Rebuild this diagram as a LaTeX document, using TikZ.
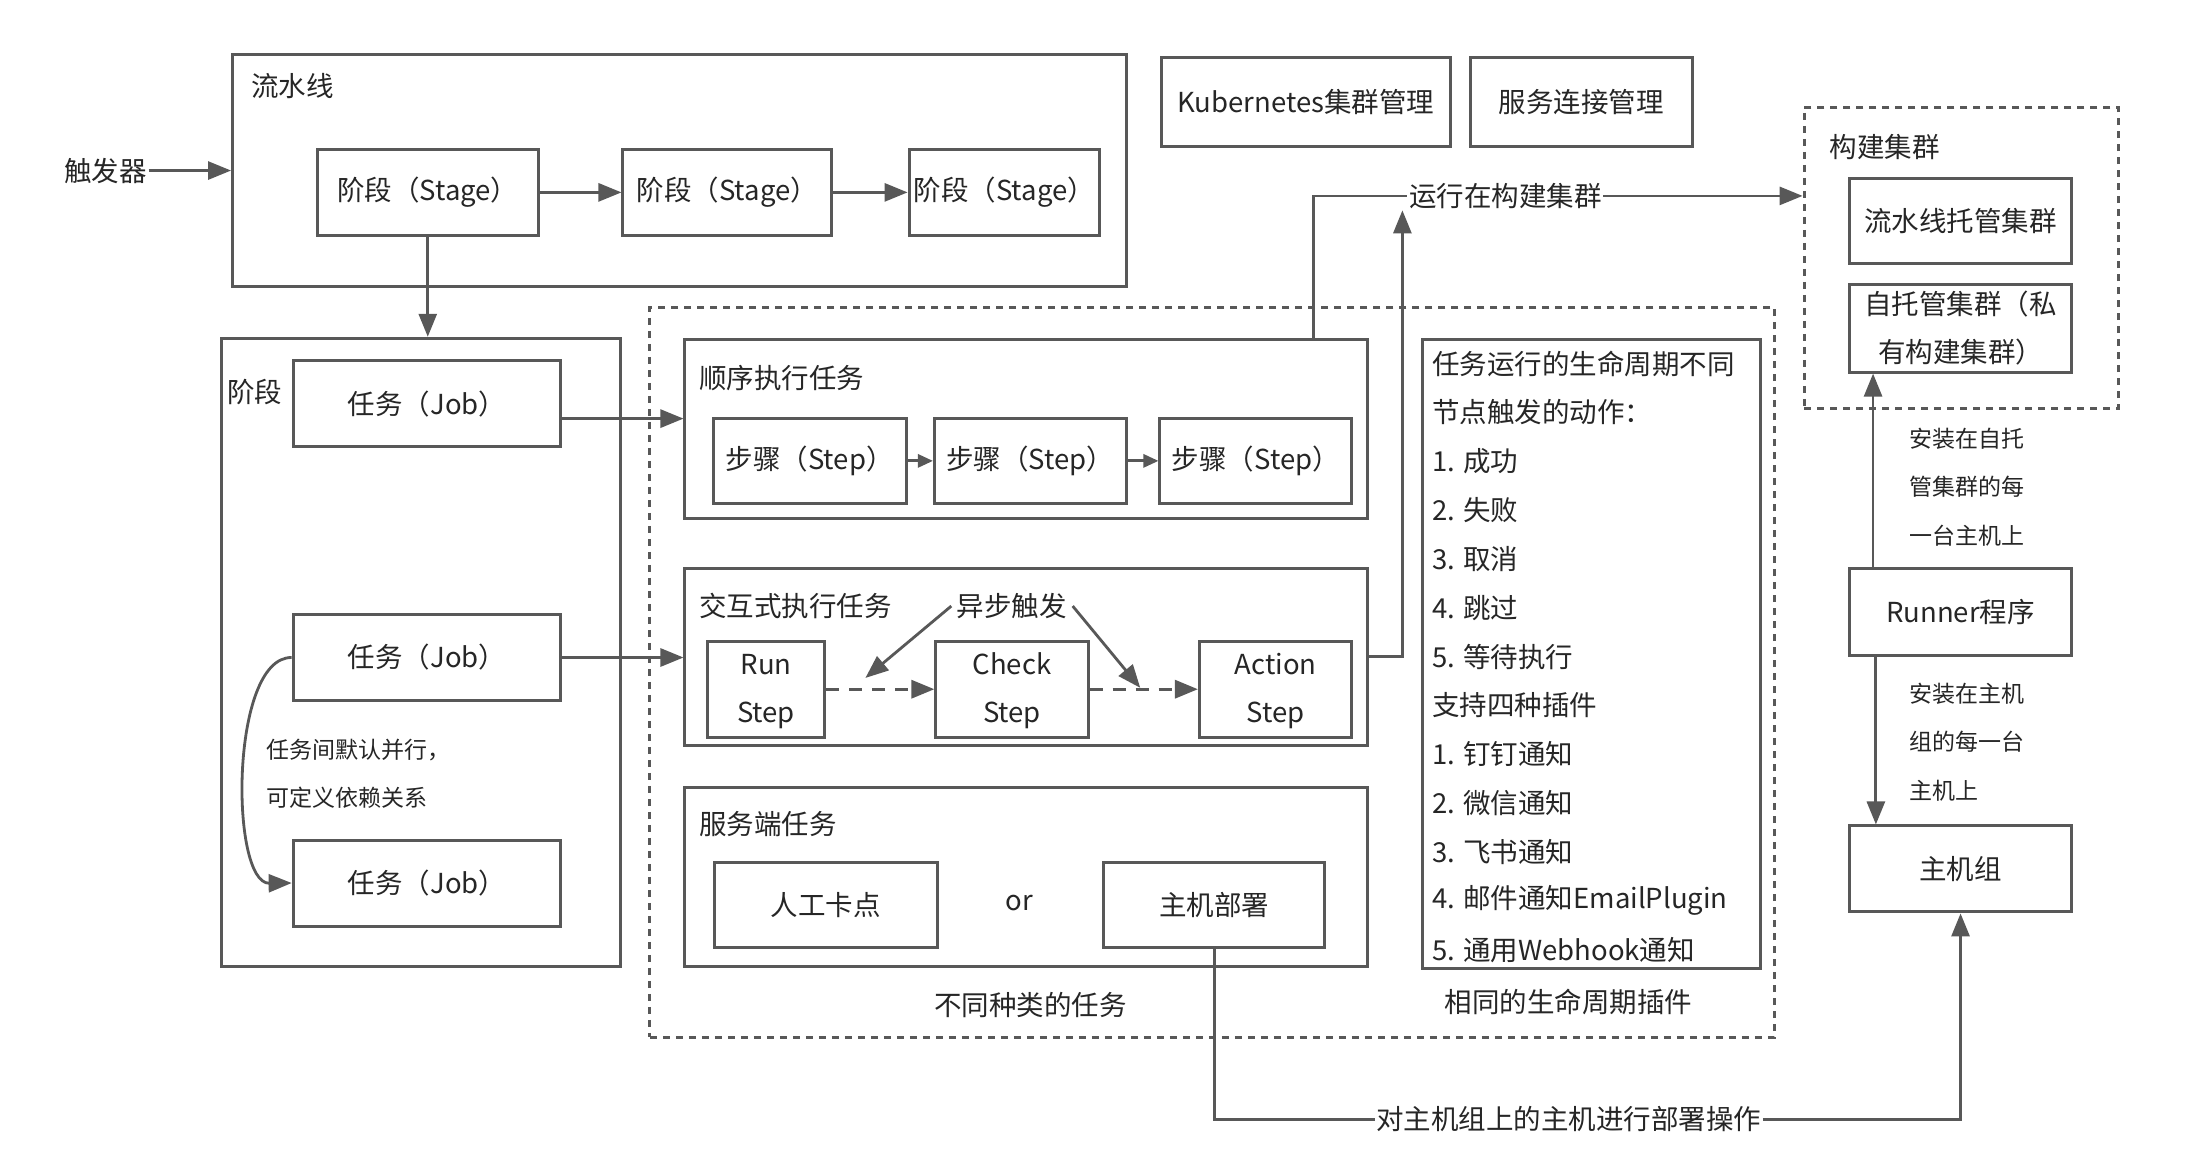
\documentclass[tikz,border=0pt]{standalone}
\usepackage{fontspec}
\setmainfont{Noto Sans CJK SC}
\usetikzlibrary{arrows.meta,calc}
\definecolor{ln}{HTML}{585858}
\definecolor{tx}{HTML}{262626}
\newcommand\mainf{\fontsize{27.5}{48}\selectfont}
\newcommand\smallf{\fontsize{23}{34}\selectfont}
\newcommand\mybox[7][]{\node[box,#1,minimum width={(#5-#3)*1.4094pt},minimum height={(#6-#4)*1.4094pt}] (#2) at ({(#3+#5)/2},{(#4+#6)/2}) {#7};}
\begin{document}
\begin{tikzpicture}[x=1.4094pt,y=-1.4094pt,
  box/.style={draw=ln, line width=3pt, inner sep=0pt, text=tx, font=\mainf},
  dashedbox/.style={dash pattern=on 7pt off 6pt},
  lbl/.style={text=tx, font=\mainf, inner sep=1.5pt},
  slbl/.style={text=tx, font=\smallf, inner sep=1pt, anchor=west},
  conn/.style={draw=ln, line width=2.8pt},
  arr/.style={conn, -{Triangle[length=23pt,width=18pt]}},
  sarr/.style={conn, -{Triangle[length=15pt,width=13pt]}},
  darr/.style={draw=ln, line width=3.3pt, dash pattern=on 13pt off 10pt, -{Triangle[length=23pt,width=18pt]}},
]
\fill[white] (0,0) rectangle (1568,834);
\useasboundingbox (0,0) rectangle (1568,834);

% ---------------- pipeline
\mybox{pipe}{165}{39}{799}{203}{}
\node[lbl, anchor=west] (pipelbl) at (177,61) {流水线};
\node[lbl] (trig) at (75,121) {触发器};
\draw[arr] (trig.east) -- (trig.east -| pipe.west);
\mybox{s1}{225}{106}{382}{167}{阶段（Stage）}
\mybox{s2}{442}{106}{590}{167}{阶段（Stage）}
\mybox{s3}{645}{106}{780}{167}{阶段（Stage）}
\draw[arr] (s1.east) -- (s2.west);
\draw[arr] (s2.east) -- (s3.west);

% ---------------- stage
\mybox{stg}{157}{240}{440}{686}{}
\node[lbl, anchor=west] (stglbl) at (160,278) {阶段};
\draw[arr] (s1.south) -- (s1.south |- stg.north);
\mybox{j1}{208}{256}{398}{317}{任务（Job）}
\mybox{j2}{208}{436}{398}{497}{任务（Job）}
\mybox{j3}{208}{596}{398}{657}{任务（Job）}
\draw[arr] (j2.west) .. controls (163,466) and (163,627) .. (j3.west);
\node[slbl] (par1) at (188,532) {任务间默认并行，};
\node[slbl] (par2) at (188,566) {可定义依赖关系};

% ---------------- kinds of tasks
\mybox[dashedbox]{kinds}{461}{218}{1259}{736}{}
\mybox{seq}{486}{241}{970}{368}{}
\node[lbl, anchor=west] (seqlbl) at (495,268) {顺序执行任务};
\mybox{st1}{506}{297}{643}{357}{步骤（Step）}
\mybox{st2}{663}{297}{799}{357}{步骤（Step）}
\mybox{st3}{823}{297}{959}{357}{步骤（Step）}
\draw[sarr] (st1.east) -- (st2.west);
\draw[sarr] (st2.east) -- (st3.west);
\coordinate (yj1) at (0,297);
\draw[arr] (j1.east |- yj1) -- (seq.west |- yj1);

\mybox{inter}{486}{403}{970}{529}{}
\node[lbl, anchor=west] (interlbl) at (495,430) {交互式执行任务};
\mybox[align=center]{runs}{502}{459}{585}{519}{\strut Run\\Step\strut}
\mybox[align=center]{chks}{664}{459}{772}{519}{\strut Check\\Step\strut}
\mybox[align=center]{acts}{851}{459}{959}{519}{\strut Action\\Step\strut}
\draw[darr] (runs.east) -- (chks.west);
\draw[darr] (chks.east) -- (acts.west);
\node[lbl] (async) at (718,430) {异步触发};
\coordinate (aL) at (614,481);
\coordinate (aR) at (809,488);
\draw[arr] ([xshift=-4pt]async.west) -- (aL);
\draw[arr] ([xshift=4pt]async.east) -- (aR);
\draw[arr] (j2.east) -- (j2.east -| inter.west);

\mybox{srv}{486}{559}{970}{686}{}
\node[lbl, anchor=west] (srvlbl) at (495,585) {服务端任务};
\mybox{manual}{507}{612}{665}{672}{人工卡点}
\node[lbl] (orlbl) at (723,641) {or};
\mybox{hd}{783}{612}{940}{672}{主机部署}
\node[lbl] (kindslbl) at (731,713) {不同种类的任务};

% ---------------- lifecycle
\mybox{life}{1009}{241}{1249}{687}{}
\foreach \t [count=\i from 0] in {任务运行的生命周期不同, 节点触发的动作：, 1. 成功, 2. 失败, 3. 取消, 4. 跳过, 5. 等待执行, 支持四种插件, 1. 钉钉通知, 2. 微信通知, 3. 飞书通知, 4. 邮件通知EmailPlugin, 5. 通用Webhook通知}
  \node[lbl, anchor=west] (life\i) at (1015,258+34.65*\i) {\t};
\node[lbl] (lifelbl) at (1113,711) {相同的生命周期插件};

% ---------------- top boxes
\mybox{k8s}{824}{41}{1029}{104}{Kubernetes集群管理}
\mybox{svc}{1043}{41}{1201}{104}{服务连接管理}

% ---------------- build cluster
\mybox[dashedbox]{bc}{1280}{76}{1503}{290}{}
\node[lbl, anchor=west] (bclbl) at (1297,104) {构建集群};
\mybox{hosted}{1312}{127}{1470}{187}{流水线托管集群}
\mybox[align=center]{selfh}{1312}{202}{1470}{264}{自托管集群（私\\有构建集群）}
\mybox{runner}{1312}{403}{1470}{465}{Runner程序}
\mybox{hg}{1312}{586}{1470}{647}{主机组}
\draw[arr] ($(runner.north west)+(18,0)$) -- ($(selfh.south west)+(18,0)$);
\draw[arr] ($(runner.south west)+(20,0)$) -- ($(hg.north west)+(20,0)$);
\node[slbl] (n1) at (1354,311) {安装在自托};
\node[slbl] (n2) at (1354,345.5) {管集群的每};
\node[slbl] (n3) at (1354,380) {一台主机上};
\node[slbl] (n4) at (1354,492) {安装在主机};
\node[slbl] (n5) at (1354,526.5) {组的每一台};
\node[slbl] (n6) at (1354,561) {主机上};

% ---------------- run on build cluster
\node[lbl] (runon) at (1068,139) {运行在构建集群};
\coordinate (up1) at (932,0);
\coordinate (up2) at (995,0);
\draw[conn] (seq.north -| up1) -- (up1 |- runon.west) -- (runon.west);
\draw[arr] (inter.east) -- (inter.east -| up2) -- (up2 |- runon.south);
\draw[arr] (runon.east) -- (runon.east -| bc.west);

% ---------------- deploy
\node[lbl] (deplbl) at (1113,794) {对主机组上的主机进行部署操作};
\draw[conn] (hd.south) -- (hd.south |- deplbl.west) -- (deplbl.west);
\draw[arr] (deplbl.east) -- (deplbl.east -| hg.south) -- (hg.south);
\end{tikzpicture}
\end{document}
